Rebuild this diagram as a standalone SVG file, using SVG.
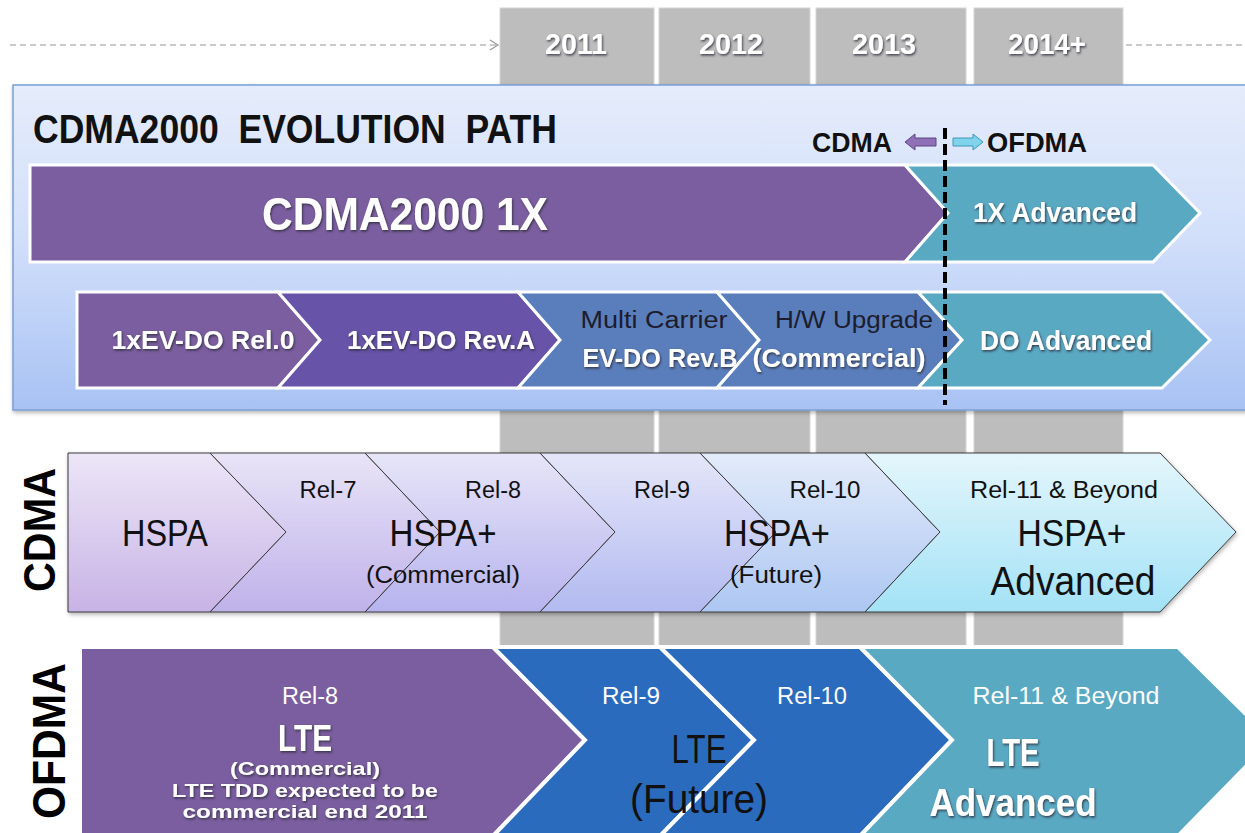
<svg xmlns="http://www.w3.org/2000/svg" width="1245" height="833" viewBox="0 0 1245 833">
<defs>
  <linearGradient id="panelG" x1="0" y1="0" x2="0" y2="1">
    <stop offset="0" stop-color="#e5ecfb"/>
    <stop offset="0.45" stop-color="#d3e0fa"/>
    <stop offset="1" stop-color="#a8c2f4"/>
  </linearGradient>
  <linearGradient id="h1" x1="0" y1="0" x2="0" y2="1">
    <stop offset="0" stop-color="#ece6f7"/><stop offset="1" stop-color="#c8b3e6"/>
  </linearGradient>
  <linearGradient id="h2" x1="0" y1="0" x2="0" y2="1">
    <stop offset="0" stop-color="#e9e4f7"/><stop offset="1" stop-color="#bfb2ea"/>
  </linearGradient>
  <linearGradient id="h3" x1="0" y1="0" x2="0" y2="1">
    <stop offset="0" stop-color="#e7e5f8"/><stop offset="1" stop-color="#b7b3ee"/>
  </linearGradient>
  <linearGradient id="h4" x1="0" y1="0" x2="0" y2="1">
    <stop offset="0" stop-color="#e5e6f9"/><stop offset="1" stop-color="#b2baf0"/>
  </linearGradient>
  <linearGradient id="h5" x1="0" y1="0" x2="0" y2="1">
    <stop offset="0" stop-color="#e3ebfa"/><stop offset="1" stop-color="#adc7f2"/>
  </linearGradient>
  <linearGradient id="h6" x1="0" y1="0" x2="0" y2="1">
    <stop offset="0" stop-color="#e4f6fc"/><stop offset="1" stop-color="#a3e2f6"/>
  </linearGradient>
  <filter id="sh" x="-10%" y="-30%" width="120%" height="160%">
    <feDropShadow dx="1" dy="1.5" stdDeviation="1" flood-color="#2a2a3a" flood-opacity="0.85"/>
  </filter>
  <filter id="boxsh" x="-5%" y="-5%" width="110%" height="115%">
    <feDropShadow dx="1" dy="2" stdDeviation="2" flood-color="#000" flood-opacity="0.3"/>
  </filter>
  <marker id="openArrow" markerWidth="12" markerHeight="12" refX="10" refY="6" orient="auto" markerUnits="userSpaceOnUse">
    <path d="M2,1 L10,6 L2,11" fill="none" stroke="#999" stroke-width="1.2"/>
  </marker>
  <style>
    text { font-family: "Liberation Sans", Arial, sans-serif; }
    .yr { fill: #ffffff; font-weight: bold; font-size: 29px; text-anchor: middle; filter: url(#sh); }
    .w { fill: #ffffff; font-weight: bold; text-anchor: middle; filter: url(#sh); }
    .wn { fill: #ffffff; text-anchor: middle; }
    .dk { fill: #1c1c2c; text-anchor: middle; }
    .blk { fill: #111111; text-anchor: middle; }
    .col { fill: #bdbdbd; stroke: #d6d6d6; stroke-width: 1; }
    .chevW { stroke: #ffffff; stroke-width: 3; stroke-linejoin: miter; }
    .chevL { stroke: #ffffff; stroke-width: 4; stroke-linejoin: miter; }
    .chevH { stroke: #3a3a3a; stroke-width: 1; stroke-linejoin: miter; }
    .purple { fill: #7b5e9f; }
    .revA { fill: #6753a7; }
    .revB { fill: #5a7ebb; }
    .teal { fill: #5aa9c3; }
    .blue { fill: #2b6bbd; }
  </style>
</defs>

<rect x="0" y="0" width="1245" height="833" fill="#ffffff"/>

<!-- timeline columns -->
<g id="years">
  <rect class="col" x="500" y="8" width="154" height="825"/>
  <rect class="col" x="659" y="8" width="151" height="825"/>
  <rect class="col" x="816" y="8" width="150" height="825"/>
  <rect class="col" x="974" y="8" width="149" height="825"/>
  <text class="yr" x="576" y="54" textLength="62" lengthAdjust="spacingAndGlyphs">2011</text>
  <text class="yr" x="731" y="54" textLength="64" lengthAdjust="spacingAndGlyphs">2012</text>
  <text class="yr" x="884" y="54" textLength="64" lengthAdjust="spacingAndGlyphs">2013</text>
  <text class="yr" x="1047" y="54" textLength="78" lengthAdjust="spacingAndGlyphs">2014+</text>
</g>

<g id="connectors">
  <line x1="10" y1="45" x2="498" y2="45" stroke="#999" stroke-width="1.2" stroke-dasharray="6 4" marker-end="url(#openArrow)"/>
  <line x1="1126" y1="45" x2="1245" y2="45" stroke="#999" stroke-width="1.2" stroke-dasharray="6 4"/>
</g>

<!-- CDMA2000 panel -->
<g id="cdma2000-panel">
  <rect x="13" y="85" width="1240" height="325" fill="url(#panelG)" stroke="#7b9fd6" stroke-width="1.5" filter="url(#boxsh)"/>
  <text x="33" y="143" font-size="40" font-weight="bold" fill="#111" style="white-space:pre" textLength="524" lengthAdjust="spacingAndGlyphs">CDMA2000  EVOLUTION  PATH</text>
</g>

<g id="cdma-ofdma-divider">
  <text x="812" y="152" font-size="27" font-weight="bold" fill="#111" textLength="80" lengthAdjust="spacingAndGlyphs">CDMA</text>
  <path d="M905,142 L915,134 L915,138 L936,138 L936,146 L915,146 L915,150 Z" fill="#8f6fb5" stroke="#5d4683" stroke-width="1"/>
  <path d="M983,142 L973,134 L973,138 L953,138 L953,146 L973,146 L973,150 Z" fill="#7fd3ea" stroke="#3d98b8" stroke-width="1"/>
  <text x="987" y="152" font-size="27" font-weight="bold" fill="#111" textLength="100" lengthAdjust="spacingAndGlyphs">OFDMA</text>
</g>

<g id="cdma2000-1x">
  <polygon class="purple chevW" points="30,165 905,165 948,213 905,262 30,262"/>
  <text class="w" x="405" y="230" font-size="47" textLength="286" lengthAdjust="spacingAndGlyphs">CDMA2000 1X</text>
</g>
<g id="1x-advanced">
  <polygon class="teal chevW" points="905,165 1153,165 1200,213 1153,262 905,262 948,213"/>
  <text class="w" x="1055" y="222" font-size="27" textLength="164" lengthAdjust="spacingAndGlyphs">1X Advanced</text>
</g>

<g id="ev-do-rel0">
  <polygon class="purple chevW" points="77,292 278,292 320,340 278,388 77,388"/>
  <text class="w" x="203" y="349" font-size="26" textLength="183" lengthAdjust="spacingAndGlyphs">1xEV-DO Rel.0</text>
</g>
<g id="ev-do-reva">
  <polygon class="revA chevW" points="278,292 518,292 560,340 518,388 278,388 320,340"/>
  <text class="w" x="441" y="349" font-size="26" textLength="188" lengthAdjust="spacingAndGlyphs">1xEV-DO Rev.A</text>
</g>
<g id="ev-do-revb">
  <polygon class="revB chevW" points="518,292 717,292 759,340 717,388 518,388 560,340"/>
  <text class="dk" x="654" y="328" font-size="23" textLength="147" lengthAdjust="spacingAndGlyphs">Multi Carrier</text>
  <text class="w" x="660" y="367" font-size="26" textLength="155" lengthAdjust="spacingAndGlyphs">EV-DO Rev.B</text>
</g>
<g id="hw-upgrade">
  <polygon class="revB chevW" points="717,292 918,292 962,340 918,388 717,388 759,340"/>
  <text class="dk" x="854" y="328" font-size="23" textLength="158" lengthAdjust="spacingAndGlyphs">H/W Upgrade</text>
  <text class="w" x="839" y="367" font-size="26" textLength="173" lengthAdjust="spacingAndGlyphs">(Commercial)</text>
</g>
<g id="do-advanced">
  <polygon class="teal chevW" points="918,292 1162,292 1210,340 1162,388 918,388 962,340"/>
  <text class="w" x="1066" y="350" font-size="28" textLength="172" lengthAdjust="spacingAndGlyphs">DO Advanced</text>
</g>

<line id="divider-line" x1="945" y1="128" x2="945" y2="405" stroke="#000" stroke-width="4" stroke-dasharray="11 5"/>

<!-- HSPA band -->
<g id="cdma-label">
  <text x="0" y="0" font-size="44" font-weight="bold" fill="#000" text-anchor="middle" textLength="124" lengthAdjust="spacingAndGlyphs" transform="translate(55,530) rotate(-90)">CDMA</text>
</g>
<g id="hspa-band" filter="url(#boxsh)">
  <polygon fill="url(#h1)" class="chevH" points="68,453 210,453 286,532 210,612 68,612"/>
  <polygon fill="url(#h2)" class="chevH" points="210,453 365,453 440,532 365,612 210,612 286,532"/>
  <polygon fill="url(#h3)" class="chevH" points="365,453 540,453 615,532 540,612 365,612 440,532"/>
  <polygon fill="url(#h4)" class="chevH" points="540,453 700,453 776,532 700,612 540,612 615,532"/>
  <polygon fill="url(#h5)" class="chevH" points="700,453 865,453 940,532 865,612 700,612 776,532"/>
  <polygon fill="url(#h6)" class="chevH" points="865,453 1160,453 1236,532 1160,612 865,612 940,532"/>
</g>
<g id="hspa">
  <text class="blk" x="165" y="546" font-size="37" textLength="86" lengthAdjust="spacingAndGlyphs">HSPA</text>
</g>
<g id="hspa-plus-commercial">
  <text class="blk" x="328" y="498" font-size="23" textLength="57" lengthAdjust="spacingAndGlyphs">Rel-7</text>
  <text class="blk" x="493" y="498" font-size="23" textLength="56" lengthAdjust="spacingAndGlyphs">Rel-8</text>
  <text class="blk" x="443" y="546" font-size="37" textLength="107" lengthAdjust="spacingAndGlyphs">HSPA+</text>
  <text class="blk" x="443" y="583" font-size="23" textLength="154" lengthAdjust="spacingAndGlyphs">(Commercial)</text>
</g>
<g id="hspa-plus-future">
  <text class="blk" x="662" y="498" font-size="23" textLength="56" lengthAdjust="spacingAndGlyphs">Rel-9</text>
  <text class="blk" x="825" y="498" font-size="23" textLength="71" lengthAdjust="spacingAndGlyphs">Rel-10</text>
  <text class="blk" x="777" y="546" font-size="37" textLength="106" lengthAdjust="spacingAndGlyphs">HSPA+</text>
  <text class="blk" x="776" y="583" font-size="23" textLength="92" lengthAdjust="spacingAndGlyphs">(Future)</text>
</g>
<g id="hspa-plus-advanced">
  <text class="blk" x="1064" y="498" font-size="23" textLength="188" lengthAdjust="spacingAndGlyphs">Rel-11 &amp; Beyond</text>
  <text class="blk" x="1072" y="546" font-size="37" textLength="109" lengthAdjust="spacingAndGlyphs">HSPA+</text>
  <text class="blk" x="1073" y="595" font-size="41" textLength="165" lengthAdjust="spacingAndGlyphs">Advanced</text>
</g>

<!-- OFDMA band -->
<g id="ofdma-label">
  <text x="0" y="0" font-size="46" font-weight="bold" fill="#000" text-anchor="middle" textLength="156" lengthAdjust="spacingAndGlyphs" transform="translate(65,741) rotate(-90)">OFDMA</text>
</g>
<g id="lte-rel8">
  <polygon class="purple chevL" points="80,647 493,647 585,740 493,836 80,836"/>
  <text class="wn" x="310" y="704" font-size="23" textLength="56" lengthAdjust="spacingAndGlyphs">Rel-8</text>
  <text class="w" x="305" y="751" font-size="37" textLength="54" lengthAdjust="spacingAndGlyphs">LTE</text>
  <text class="w" x="305" y="775" font-size="19" textLength="150" lengthAdjust="spacingAndGlyphs">(Commercial)</text>
  <text class="w" x="305" y="797" font-size="19" textLength="266" lengthAdjust="spacingAndGlyphs">LTE TDD expected to be</text>
  <text class="w" x="305" y="818" font-size="19" textLength="245" lengthAdjust="spacingAndGlyphs">commercial end 2011</text>
</g>
<g id="lte-rel9">
  <polygon class="blue chevL" points="493,647 660,647 754,740 660,836 493,836 585,740"/>
  <text class="wn" x="631" y="704" font-size="23" textLength="58" lengthAdjust="spacingAndGlyphs">Rel-9</text>
</g>
<g id="lte-rel10">
  <polygon class="blue chevL" points="660,647 860,647 952,740 860,836 660,836 754,740"/>
  <text class="wn" x="812" y="704" font-size="23" textLength="70" lengthAdjust="spacingAndGlyphs">Rel-10</text>
</g>
<g id="lte-future">
  <text class="blk" x="699" y="763" font-size="40" textLength="55" lengthAdjust="spacingAndGlyphs">LTE</text>
  <text class="blk" x="699" y="813" font-size="40" textLength="138" lengthAdjust="spacingAndGlyphs">(Future)</text>
</g>
<g id="lte-advanced">
  <polygon class="teal chevL" points="860,647 1178,647 1272,740 1178,836 860,836 952,740"/>
  <text class="wn" x="1066" y="704" font-size="23" textLength="187" lengthAdjust="spacingAndGlyphs">Rel-11 &amp; Beyond</text>
  <text class="w" x="1013" y="766" font-size="38" textLength="53" lengthAdjust="spacingAndGlyphs">LTE</text>
  <text class="w" x="1013" y="816" font-size="38" textLength="167" lengthAdjust="spacingAndGlyphs">Advanced</text>
</g>
</svg>
